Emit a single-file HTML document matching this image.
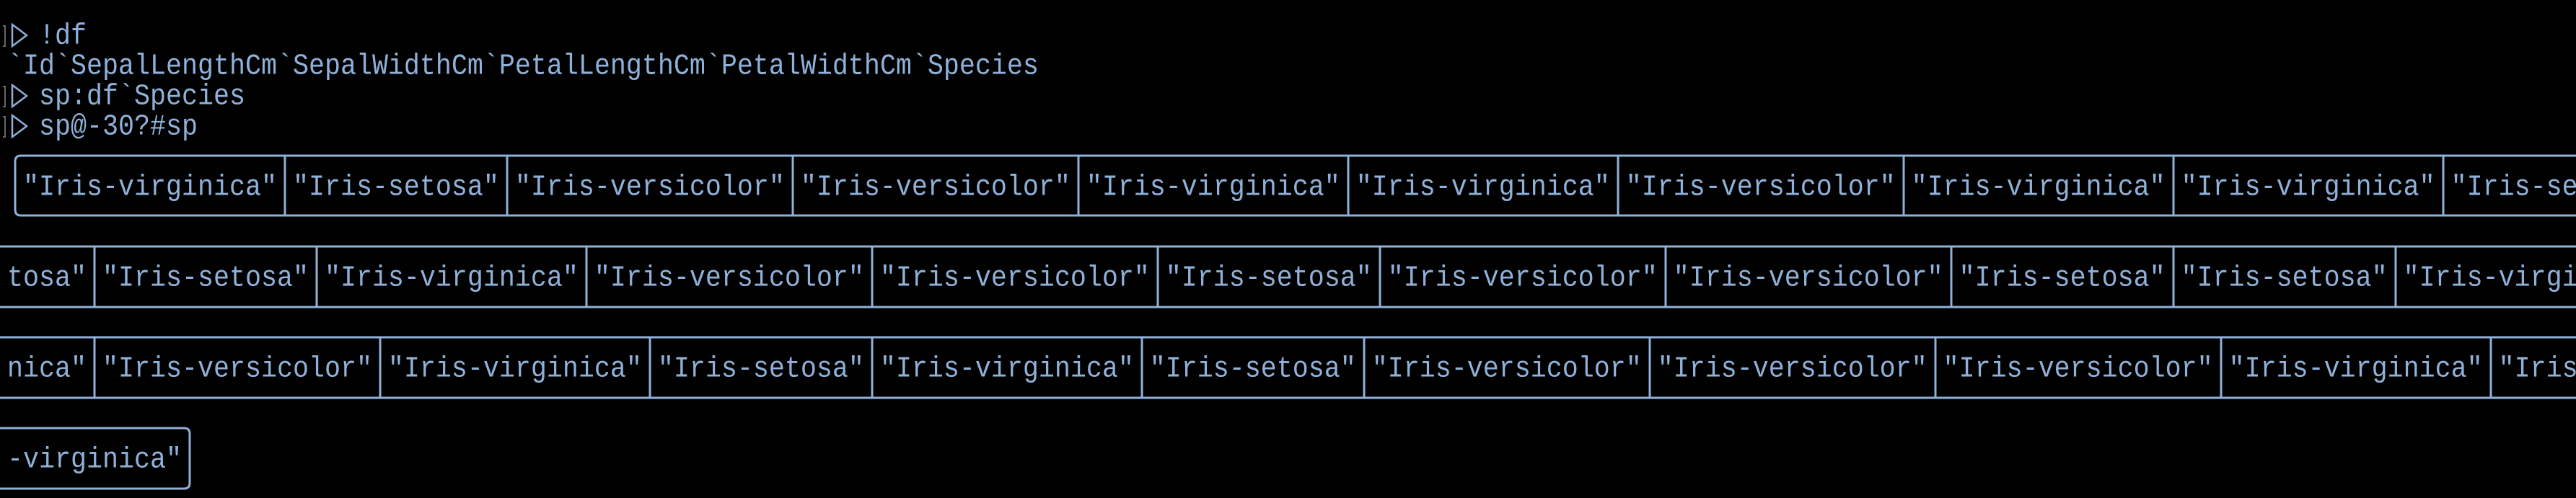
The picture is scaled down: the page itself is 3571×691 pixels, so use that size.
<!DOCTYPE html>
<html><head><meta charset="utf-8"><style>
html,body{margin:0;padding:0;background:#000;width:3571px;height:691px;overflow:hidden}
.t{position:absolute;left:10px;font-family:"Liberation Mono",monospace;font-size:36.67px;line-height:42px;height:42px;color:#8fb1d9;white-space:pre;transform:scaleY(1.1);transform-origin:0 60%}
svg{position:absolute;left:0;top:0}
</style></head><body>
<svg width="3571" height="691">
<g stroke="#8fb1d9" stroke-width="3" fill="none">
<path d="M4 36 H7 V64 H4" stroke="#666" stroke-width="2"/>
<path d="M17 34 L37 49 L17 64 Z" stroke-width="2.5"/>
<path d="M4 120 H7 V148 H4" stroke="#666" stroke-width="2"/>
<path d="M17 118 L37 133 L17 148 Z" stroke-width="2.5"/>
<path d="M4 162 H7 V190 H4" stroke="#666" stroke-width="2"/>
<path d="M17 160 L37 175 L17 190 Z" stroke-width="2.5"/>
<path d="M3571 216 H29 Q21 216 21 224 V291 Q21 299 29 299 H3571"/>
<path d="M395 216V299M703 216V299M1099 216V299M1495 216V299M1869 216V299M2243 216V299M2639 216V299M3013 216V299M3387 216V299"/>
<path d="M0 342H3571M0 426H3571"/>
<path d="M131 342V426M439 342V426M813 342V426M1209 342V426M1605 342V426M1913 342V426M2309 342V426M2705 342V426M3013 342V426M3321 342V426"/>
<path d="M0 468H3571M0 552H3571"/>
<path d="M131 468V552M527 468V552M901 468V552M1209 468V552M1583 468V552M1891 468V552M2287 468V552M2683 468V552M3079 468V552M3453 468V552"/>
<path d="M0 594 H255 Q263 594 263 602 V670 Q263 678 255 678 H0"/>
</g>
</svg>
<div class="t" style="top:30px">  !df</div>
<div class="t" style="top:72px">`Id`SepalLengthCm`SepalWidthCm`PetalLengthCm`PetalWidthCm`Species</div>
<div class="t" style="top:114px">  sp:df`Species</div>
<div class="t" style="top:156px">  sp@-30?#sp</div>
<div class="t" style="top:240px"> "Iris-virginica" "Iris-setosa" "Iris-versicolor" "Iris-versicolor" "Iris-virginica" "Iris-virginica" "Iris-versicolor" "Iris-virginica" "Iris-virginica" "Iris-se</div>
<div class="t" style="top:366px">tosa" "Iris-setosa" "Iris-virginica" "Iris-versicolor" "Iris-versicolor" "Iris-setosa" "Iris-versicolor" "Iris-versicolor" "Iris-setosa" "Iris-setosa" "Iris-virgi</div>
<div class="t" style="top:492px">nica" "Iris-versicolor" "Iris-virginica" "Iris-setosa" "Iris-virginica" "Iris-setosa" "Iris-versicolor" "Iris-versicolor" "Iris-versicolor" "Iris-virginica" "Iris</div>
<div class="t" style="top:618px">-virginica"</div>
</body></html>
